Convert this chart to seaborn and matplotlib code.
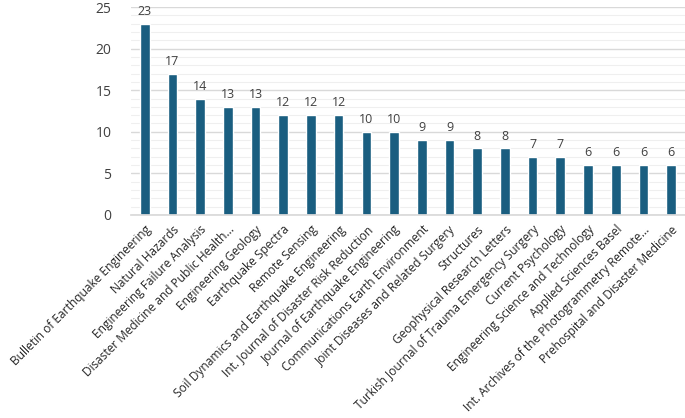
import matplotlib
matplotlib.use("Agg")
import matplotlib.pyplot as plt
import pandas as pd
import seaborn as sns

journals = [
    "Bulletin of Earthquake Engineering",
    "Natural Hazards",
    "Engineering Failure Analysis",
    "Disaster Medicine and Public Health...",
    "Engineering Geology",
    "Earthquake Spectra",
    "Remote Sensing",
    "Soil Dynamics and Earthquake Engineering",
    "Int. Journal of Disaster Risk Reduction",
    "Journal of Earthquake Engineering",
    "Communications Earth Environment",
    "Joint Diseases and Related Surgery",
    "Structures",
    "Geophysical Research Letters",
    "Turkish Journal of Trauma Emergency Surgery",
    "Current Psychology",
    "Engineering Science and Technology",
    "Applied Sciences Basel",
    "Int. Archives of the Photogrammetry Remote...",
    "Prehospital and Disaster Medicine",
]
counts = [23, 17, 14, 13, 13, 12, 12, 12, 10, 10, 9, 9, 8, 8, 7, 7, 6, 6, 6, 6]

df = pd.DataFrame({"journal": journals, "count": counts})

sns.set_theme(style="white")
plt.rcParams["font.family"] = ["Open Sans", "DejaVu Sans"]

fig = plt.figure(figsize=(6.85, 4.18), dpi=100)
ax = fig.add_axes([0.191, 0.486, 0.809, 0.497])

sns.barplot(data=df, x="journal", y="count", color="#1a5e80", width=0.35,
            saturation=1, ax=ax)

for i, v in enumerate(counts):
    ax.text(i, v + 0.7, str(v), ha="center", va="bottom", fontsize=9, color="#404040")

ax.set_ylim(0, 25)
ax.set_xlim(-0.5, len(journals) - 0.5)
ax.set_yticks(range(0, 26, 5))
ax.set_yticks(range(0, 26), minor=True)
ax.grid(axis="y", which="major", color="#d9d9d9", linewidth=1)
ax.grid(axis="y", which="minor", color="#efefef", linewidth=0.8)
ax.set_axisbelow(True)
for s in ["top", "right", "left"]:
    ax.spines[s].set_visible(False)
ax.spines["bottom"].set_color("#d9d9d9")
ax.tick_params(axis="y", which="both", length=0, labelsize=10, labelcolor="#404040", pad=14)
ax.tick_params(axis="x", length=0, pad=6)
ax.set_xticks(range(len(journals)))
ax.set_xticklabels(journals, rotation=45, ha="right", rotation_mode="anchor",
                   fontsize=8.6, color="#262626")
ax.set_xlabel("")
ax.set_ylabel("")

fig.savefig("out.png", dpi=100)
